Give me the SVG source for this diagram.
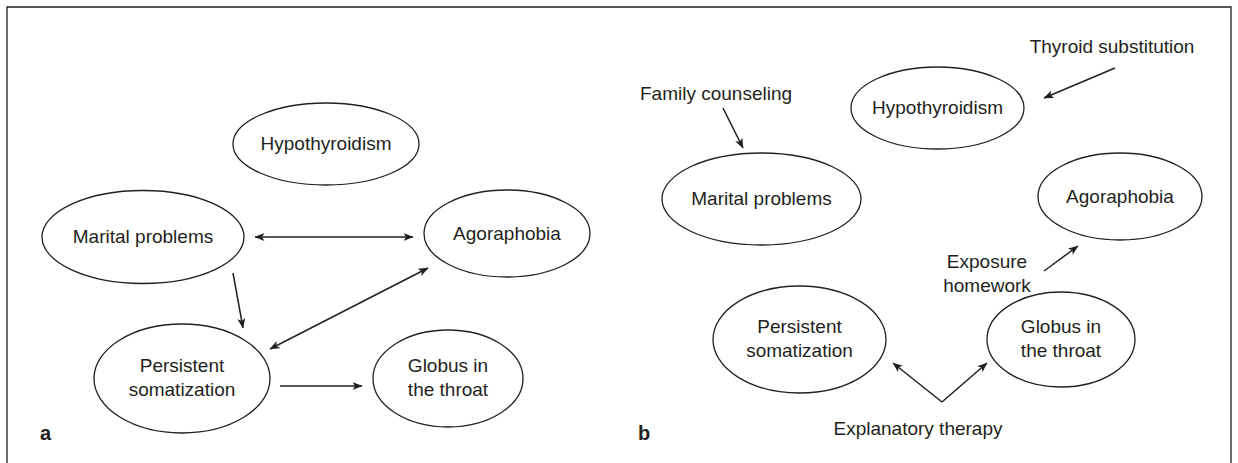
<svg xmlns="http://www.w3.org/2000/svg" width="1238" height="463" viewBox="0 0 1238 463">
<style>
  .n ellipse { fill: #ffffff; stroke: #231f20; stroke-width: 1.3; }
  text { font-family: "Liberation Sans", Arial, sans-serif; font-size: 19px; fill: #231f20; }
  .c text { text-anchor: middle; }
  .lbl { font-weight: bold; font-size: 20px; }
  .e line, .e path { stroke: #231f20; stroke-width: 1.5; fill: none; }
  .one { marker-end: url(#arr); }
  .two { marker-start: url(#arr); marker-end: url(#arr); }
</style>
<defs>
  <marker id="arr" viewBox="0 0 10 8" refX="9.5" refY="4" markerWidth="10" markerHeight="8" markerUnits="userSpaceOnUse" orient="auto-start-reverse">
    <path d="M0,0 L10,4 L0,8 L2.5,4 z" fill="#231f20"/>
  </marker>
</defs>
<rect x="0" y="0" width="1238" height="463" fill="#ffffff"/>
<path d="M7,470 L7,7 L1231,7 L1231,470" fill="none" stroke="#231f20" stroke-width="1.3"/>

<!-- Panel a -->
<g id="a-hypothyroidism" class="n c"><ellipse cx="326" cy="144" rx="93" ry="41"/><text x="326" y="150">Hypothyroidism</text></g>
<g id="a-marital" class="n c"><ellipse cx="143" cy="237" rx="101" ry="46.5"/><text x="143" y="243">Marital problems</text></g>
<g id="a-agoraphobia" class="n c"><ellipse cx="507" cy="233.5" rx="83" ry="43.5"/><text x="507" y="240">Agoraphobia</text></g>
<g id="a-persistent" class="n c"><ellipse cx="182" cy="378.5" rx="88" ry="54.5"/><text x="182" y="372">Persistent</text><text x="182" y="396">somatization</text></g>
<g id="a-globus" class="n c"><ellipse cx="448" cy="378.5" rx="75" ry="48.5"/><text x="448" y="372">Globus in</text><text x="448" y="396">the throat</text></g>
<text id="label-a" class="lbl" x="40" y="440">a</text>

<!-- Panel b -->
<g id="b-marital" class="n c"><ellipse cx="761.5" cy="199" rx="99.5" ry="46"/><text x="761.5" y="205">Marital problems</text></g>
<g id="b-hypothyroidism" class="n c"><ellipse cx="937.5" cy="108" rx="86.5" ry="41"/><text x="937.5" y="114">Hypothyroidism</text></g>
<g id="b-agoraphobia" class="n c"><ellipse cx="1120" cy="196.5" rx="82" ry="43.5"/><text x="1120" y="203">Agoraphobia</text></g>
<g id="b-persistent" class="n c"><ellipse cx="799.5" cy="339.5" rx="86.5" ry="53.5"/><text x="799.5" y="333">Persistent</text><text x="799.5" y="357">somatization</text></g>
<g id="b-globus" class="n c"><ellipse cx="1061" cy="339.5" rx="74" ry="47.5"/><text x="1061" y="333">Globus in</text><text x="1061" y="357">the throat</text></g>
<g id="t-family" class="c"><text x="716" y="100">Family counseling</text></g>
<g id="t-thyroid" class="c"><text x="1112" y="53">Thyroid substitution</text></g>
<g id="t-exposure" class="c"><text x="987" y="268">Exposure</text><text x="987" y="292">homework</text></g>
<g id="t-explanatory" class="c"><text x="918" y="435">Explanatory therapy</text></g>
<text id="label-b" class="lbl" x="638" y="440">b</text>

<!-- Connectors -->
<g id="connectors" class="e">
  <line class="two" x1="255" y1="237" x2="413" y2="237"/>
  <line class="one" x1="233" y1="273" x2="243" y2="328"/>
  <line class="two" x1="270" y1="349" x2="428" y2="268"/>
  <line class="one" x1="280" y1="386" x2="362" y2="386"/>
  <line class="one" x1="723" y1="108" x2="743" y2="148"/>
  <line class="one" x1="1115" y1="68" x2="1044" y2="98"/>
  <line class="one" x1="1044" y1="271" x2="1078" y2="246"/>
  <line class="one" x1="942" y1="402" x2="893" y2="363"/>
  <line class="one" x1="942" y1="402" x2="987" y2="363"/>
</g>
</svg>
